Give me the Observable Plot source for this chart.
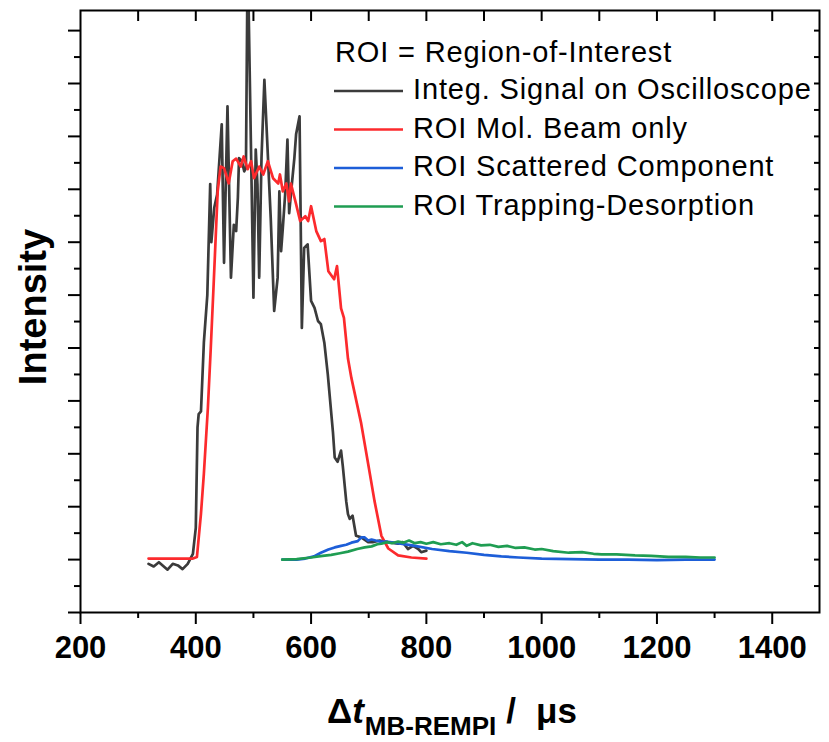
<!DOCTYPE html>
<html>
<head>
<meta charset="utf-8">
<script src="https://cdn.jsdelivr.net/npm/d3@7"></script>
<script src="https://cdn.jsdelivr.net/npm/@observablehq/plot@0.6"></script>
<style>
  html, body { margin: 0; padding: 0; background: #fff; }
  #chart svg { display: block; }
</style>
</head>
<body>
<div id="chart"></div>
<script>
// ---- Data (time in µs, intensity in arbitrary units) ----
const seriesNames = [
  "Integ. Signal on Oscilloscope",
  "ROI Mol. Beam only",
  "ROI Scattered Component",
  "ROI Trapping-Desorption"
];
const seriesColors = ["#3b3b3b", "#fc2a2d", "#1d5ed8", "#1f9d52"];
const legendTitle = "ROI = Region-of-Interest";

const integSignal = [
  [318,-0.08],[327,-0.13],[336,-0.05],[351,-0.19],[360,-0.08],[369,-0.11],[377,-0.18],[386,-0.08],
  [395,0.11],[400,0.6],[403,2.5],[405,2.75],[409,2.8],[414,4.1],[420,5.0],[425,7.1],[427,6.0],
  [432,6.65],[437,6.9],[445,8.23],[449,5.61],[455,8.57],[461,5.33],[466,6.33],[470,6.21],[473,6.84],
  [475,7.59],[480,7.53],[484,7.34],[487,7.4],[490,11.5],[497,6.96],[500,4.95],[504,7.75],[507,7.09],
  [510,5.33],[514,7.59],[519,9.07],[530,6.46],[536,4.7],[542,5.33],[545,6.96],[548,5.83],[551,6.27],
  [555,6.9],[559,7.94],[562,6.55],[566,7.02],[571,7.59],[574,8.04],[580,8.38],[584,4.38],[588,5.89],
  [594,5.96],[600,4.89],[606,4.76],[612,4.51],[617,4.45],[623,4.1],[629,3.5],[638,2.4],[641,1.93],
  [646,1.85],[652,2.06],[655,1.77],[661,1.1],[664,0.86],[667,0.77],[672,0.83],[678,0.45],[687,0.42],
  [699,0.33],[707,0.33],[719,0.36],[733,0.33],[751,0.3],[759,0.33],[768,0.2],[777,0.26],[786,0.2],
  [791,0.14],[800,0.17]
];

const molBeam = [
  [318,0.02],[340,0.02],[370,0.02],[395,0.02],[402,0.05],[409,0.87],[414,1.62],[421,2.87],[426,4.0],
  [431,5.21],[438,6.96],[443,7.43],[449,7.40],[457,7.11],[464,7.53],[470,7.58],[478,7.43],[483,7.62],
  [490,7.38],[496,7.53],[501,7.21],[510,7.43],[517,7.28],[525,7.53],[534,7.21],[543,7.11],[546,7.28],
  [551,6.96],[557,7.11],[562,6.77],[565,7.11],[574,6.72],[581,6.40],[590,6.49],[595,6.40],[600,6.68],
  [609,6.21],[617,6.02],[623,6.06],[630,5.45],[640,5.30],[645,5.55],[652,4.75],[657,4.57],[664,3.8],
  [670,3.43],[687,2.57],[699,1.81],[710,1.11],[722,0.45],[734,0.21],[751,0.08],[774,0.04],[800,0.02]
];

const scattered = [
  [550,0.0],[575,0.0],[590,0.02],[605,0.06],[617,0.13],[630,0.19],[641,0.23],[652,0.26],[661,0.28],
  [670,0.32],[681,0.35],[687,0.42],[693,0.42],[699,0.36],[705,0.38],[712,0.36],[720,0.34],[730,0.34],
  [750,0.31],[780,0.26],[810,0.2],[840,0.16],[870,0.13],[900,0.09],[930,0.06],[960,0.04],[1000,0.02],
  [1050,0.01],[1100,0.0],[1150,0.0],[1200,-0.01],[1250,0.0],[1300,0.0]
];

const trapping = [
  [550,0.0],[575,0.01],[600,0.04],[620,0.07],[635,0.09],[650,0.12],[664,0.15],[680,0.2],[693,0.23],
  [705,0.25],[715,0.29],[722,0.3],[732,0.33],[740,0.31],[751,0.34],[760,0.32],[770,0.36],[780,0.31],
  [790,0.33],[800,0.3],[812,0.33],[825,0.29],[840,0.31],[852,0.28],[862,0.33],[870,0.26],[880,0.31],
  [895,0.27],[910,0.28],[925,0.24],[940,0.26],[955,0.22],[970,0.23],[988,0.19],[1000,0.2],[1020,0.16],
  [1047,0.13],[1070,0.14],[1090,0.11],[1104,0.1],[1130,0.1],[1162,0.08],[1190,0.07],[1220,0.05],
  [1250,0.05],[1275,0.04],[1300,0.04]
];

const xMajorTicks = [200, 400, 600, 800, 1000, 1200, 1400];
const xMinorTicks = [300, 500, 700, 900, 1100, 1300];
const xTopTicks = [300, 400, 500, 600, 700, 800, 900, 1000, 1100, 1200, 1300, 1400];
const yMajorTicks = [-1, 0, 1, 2, 3, 4, 5, 6, 7, 8, 9, 10];
const yMinorTicks = [-0.5, 0.5, 1.5, 2.5, 3.5, 4.5, 5.5, 6.5, 7.5, 8.5, 9.5];
const yRightTicks = [-0.5, 0, 0.5, 1, 1.5, 2, 2.5, 3, 3.5, 4, 4.5, 5, 5.5, 6, 6.5, 7, 7.5, 8, 8.5, 9, 9.5, 10];

const xDomain = [200, 1482];
const yDomain = [-1, 10.38];

// ---- Build table ----
const allSeries = [integSignal, molBeam, scattered, trapping];
const table = allSeries.flatMap((s, k) => s.map(([t, v]) => ({t, v, series: seriesNames[k]})));

const FONT = "'Liberation Sans', Arial, Helvetica, sans-serif";

const plot = Plot.plot({
  width: 829,
  height: 742,
  marginLeft: 80,
  marginRight: 10,
  marginTop: 10,
  marginBottom: 130,
  style: {fontFamily: FONT, background: "#fff", color: "#000"},
  x: {domain: xDomain},
  y: {domain: yDomain},
  color: {domain: seriesNames, range: seriesColors},
  marks: [
    Plot.axisX(xMajorTicks, {tickSize: 12, tickPadding: 11, strokeWidth: 2, fontSize: 31, fontWeight: "bold", label: null, tickFormat: d => String(d)}),
    Plot.axisX(xMinorTicks, {tickSize: 6, strokeWidth: 2, label: null, tickFormat: () => ""}),
    Plot.axisX(xTopTicks, {anchor: "top", tickSize: 10, dy: 10, strokeWidth: 2, label: null, tickFormat: () => ""}),
    Plot.axisY(yMajorTicks, {tickSize: 12, strokeWidth: 2, label: null, tickFormat: () => ""}),
    Plot.axisY(yMinorTicks, {tickSize: 6, strokeWidth: 2, label: null, tickFormat: () => ""}),
    Plot.axisY(yRightTicks, {anchor: "right", tickSize: 6, dx: -6, strokeWidth: 2, label: null, tickFormat: () => ""}),
    Plot.line(table, {x: "t", y: "v", z: "series", stroke: "series", strokeWidth: 2.7, clip: true, curve: "linear"}),
    Plot.frame({stroke: "#000", strokeWidth: 2})
  ]
});

document.getElementById("chart").appendChild(plot);

// ---- Titles and legend ----
const svg = d3.select(plot);

// y title
svg.append("text")
  .attr("transform", "translate(46,307) rotate(-90)")
  .attr("text-anchor", "middle")
  .style("font-family", FONT)
  .style("font-weight", "bold")
  .style("font-size", "38px")
  .attr("fill", "#000")
  .text("Intensity");

// x title
const xt = svg.append("text")
  .attr("x", 327)
  .attr("y", 723)
  .attr("text-anchor", "start")
  .style("font-family", FONT)
  .style("font-weight", "bold")
  .attr("fill", "#000");
xt.append("tspan").style("font-size", "35px").text("Δ");
xt.append("tspan").style("font-size", "35px").style("font-style", "italic").text("t");
xt.append("tspan").style("font-size", "26px").attr("dy", 12).attr("dx", 1).text("MB-REMPI");
xt.append("tspan").style("font-size", "35px").attr("dy", -12).attr("dx", 10).text("/");
xt.append("tspan").style("font-size", "35px").attr("dx", 20).text("μs");

// legend
const lg = svg.append("g")
  .attr("text-anchor", "start")
  .style("font-family", FONT)
  .style("font-size", "29px")
  .style("letter-spacing", "0.85px")
  .attr("fill", "#000");
lg.append("text").attr("x", 335).attr("y", 62).text(legendTitle);
seriesNames.forEach((name, i) => {
  const yb = 99 + i * 38.5;
  lg.append("line")
    .attr("x1", 334).attr("x2", 403)
    .attr("y1", yb - 8).attr("y2", yb - 8)
    .attr("stroke", seriesColors[i]).attr("stroke-width", 2.5);
  lg.append("text").attr("x", 413).attr("y", yb).text(name);
});
</script>
</body>
</html>
